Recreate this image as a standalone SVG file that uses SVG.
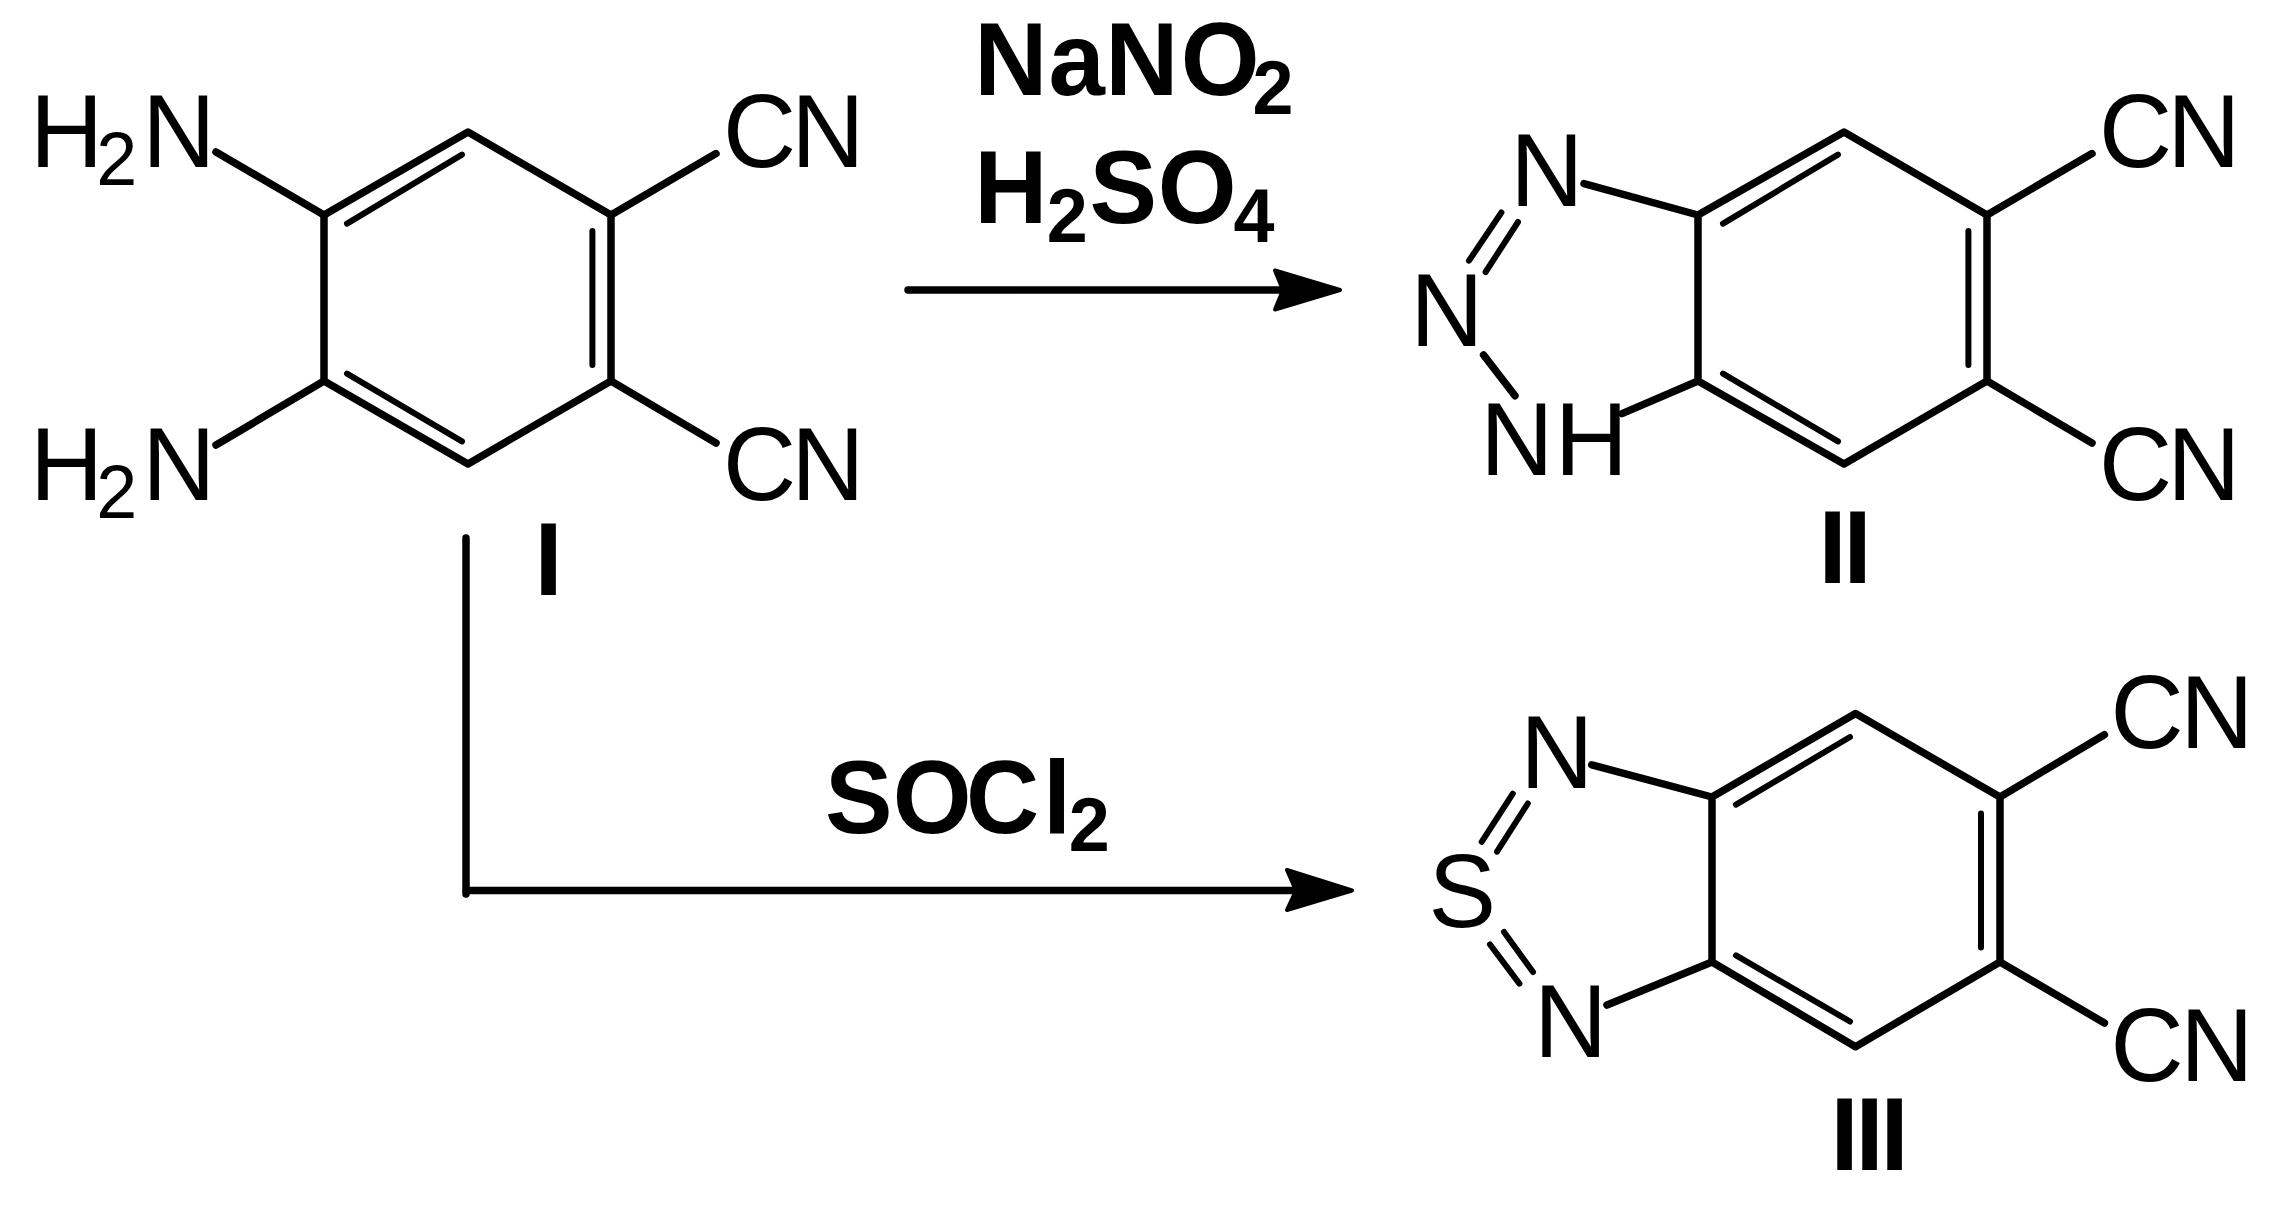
<svg xmlns="http://www.w3.org/2000/svg" width="2271" height="1207" viewBox="0 0 2271 1207">
<defs>
<style>
.b{stroke:#000;stroke-width:7.5;stroke-linecap:round;stroke-linejoin:round;fill:none}
.d{stroke-width:6}
.t{font-family:"Liberation Sans",Arial,sans-serif;font-size:104.5px;fill:#000}
.s{font-size:76px}
.m{font-weight:bold}
.k{letter-spacing:-8px}
.h{fill:#000;stroke:#000;stroke-width:4;stroke-linejoin:round}
</style>
</defs>
<rect width="2271" height="1207" fill="#fff"/>
<g id="compound-I">
<path class="b" d="M468 132L611 215V381L468 464L324 381V215Z"/>
<path class="b d" d="M347 223.6L462 154.6M592.4 231V365M347 373.6L462 441.4"/>
<path class="b" d="M324 215L216 152M611 215L716 153.6M324 381L216 445M611 381L716 443"/>
<text class="t" transform="matrix(.97 0 0 1 30 166.5)"><tspan class="k" x="0">H</tspan><tspan class="s" x="68.3" y="18.5">2</tspan><tspan x="115.8" y="0">N</tspan></text>
<text class="t" transform="matrix(.97 0 0 1 30 499.5)"><tspan class="k" x="0">H</tspan><tspan class="s" x="68.3" y="18.5">2</tspan><tspan x="115.8" y="0">N</tspan></text>
<text class="t" transform="matrix(.97 0 0 1 723 166.5)"><tspan x="0">C</tspan><tspan x="70.4">N</tspan></text>
<text class="t" transform="matrix(.97 0 0 1 723 499.5)"><tspan x="0">C</tspan><tspan x="70.4">N</tspan></text>
<text class="t m" transform="matrix(.97 0 0 1 534.5 594.6)">I</text>
</g>
<g id="compound-II">
<path class="b" d="M1844 132L1987 215V381L1844 464L1698 381V215Z"/>
<path class="b d" d="M1723 223.6L1838 154.6M1968.4 231V365M1723 373.6L1838 441.4"/>
<path class="b" d="M1987 215L2092 153.6M1987 381L2092 443M1698 215L1584 183.6M1698 381L1622 413.6M1483.6 355L1515 395.7"/>
<path class="b d" d="M1501.4 212.5L1469 260.7M1518 222L1485.6 272"/>
<text class="t" transform="matrix(.97 0 0 1 2099 166.5)"><tspan x="0">C</tspan><tspan x="70.4">N</tspan></text>
<text class="t" transform="matrix(.97 0 0 1 2099 499.5)"><tspan x="0">C</tspan><tspan x="70.4">N</tspan></text>
<text class="t" transform="matrix(.97 0 0 1 1510.3 206.4)">N</text>
<text class="t" transform="matrix(.97 0 0 1 1410.3 346.4)">N</text>
<text class="t" transform="matrix(.97 0 0 1 1480.3 475)"><tspan x="0">N</tspan><tspan x="76.7">H</tspan></text>
<text class="t m" transform="matrix(.97 0 0 1 1818.5 583)"><tspan x="0">I</tspan><tspan x="25.8">I</tspan></text>
</g>
<g id="compound-III">
<path class="b" d="M1855.5 713.6L2000 797V962L1855.5 1046.7L1712 962V797Z"/>
<path class="b d" d="M1736 804.6L1850 737M1981 813.6V947.4M1736 955.4L1850 1021.5"/>
<path class="b" d="M2000 797L2104.4 734.8M2000 962L2104.4 1023M1712 797L1591.7 764.8M1712 962L1607 1005"/>
<path class="b d" d="M1512.8 793.7L1481.7 841.8M1527.8 803.5L1497 851.6M1504 932L1533 972M1490 944.5L1519.4 983.6"/>
<text class="t" transform="matrix(.97 0 0 1 2110.5 748)"><tspan x="0">C</tspan><tspan x="72">N</tspan></text>
<text class="t" transform="matrix(.97 0 0 1 2110.5 1080.5)"><tspan x="0">C</tspan><tspan x="72">N</tspan></text>
<text class="t" transform="matrix(.97 0 0 1 1520.3 787.5)">N</text>
<text class="t" transform="matrix(.97 0 0 1 1428.4 927)">S</text>
<text class="t" transform="matrix(.97 0 0 1 1534 1056.6)">N</text>
<text class="t m" transform="matrix(.97 0 0 1 1830.5 1170)"><tspan x="0">I</tspan><tspan x="25.8">I</tspan><tspan x="51.5">I</tspan></text>
</g>
<g id="connectors">
<path class="b" d="M908 290H1290"/>
<path class="h" d="M1340 290L1275 270.5L1283 290L1275 309.5Z"/>
<path class="b" d="M466 538V894M466 890.5H1300"/>
<path class="h" d="M1352 890.5L1287 870L1296 890.5L1287 910Z"/>
</g>
<g id="reagents">
<text class="t m" transform="matrix(.97 0 0 1 974.2 94.6)"><tspan x="0">N</tspan><tspan x="76.6">a</tspan><tspan x="135">N</tspan><tspan class="k" x="212.9">O</tspan><tspan class="s" x="287" y="19">2</tspan></text>
<text class="t m" transform="matrix(.97 0 0 1 974.2 222.5)"><tspan x="0">H</tspan><tspan class="s" x="74.7" y="19.5">2</tspan><tspan x="118.9" y="0">S</tspan><tspan x="189.2">O</tspan><tspan class="s" x="267.3" y="19.5">4</tspan></text>
<text class="t m" transform="matrix(.97 0 0 1 825 832.7)"><tspan x="0">S</tspan><tspan x="69.8">O</tspan><tspan x="145.4">C</tspan><tspan x="224.7">l</tspan><tspan class="s" x="251.2" y="18">2</tspan></text>
</g>
</svg>
